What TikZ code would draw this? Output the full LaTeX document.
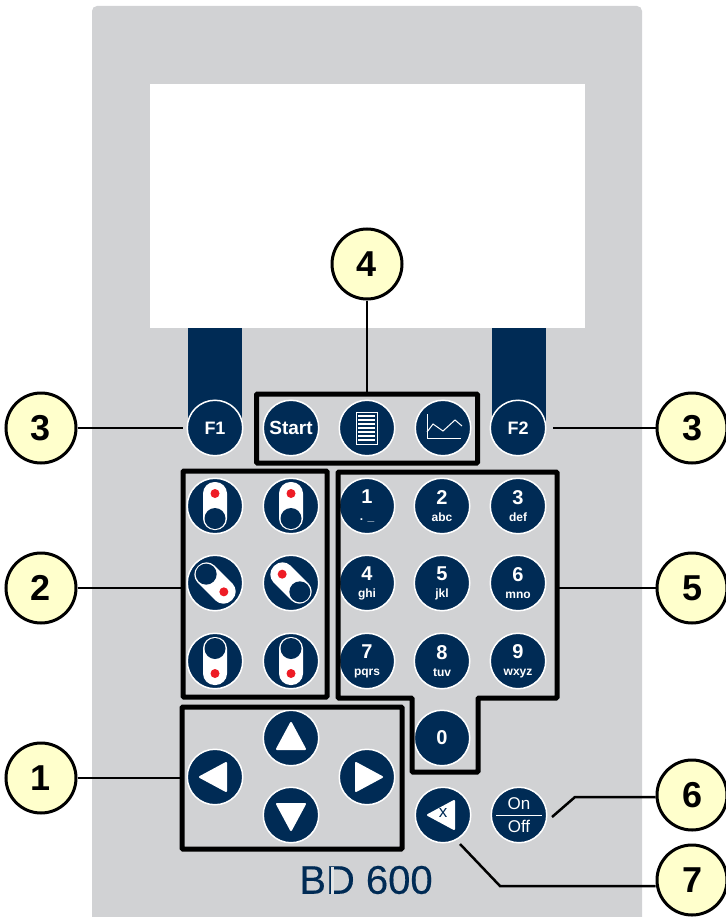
\documentclass[tikz,border=0pt]{standalone}
\usepackage{fontspec}
\setmainfont{Liberation Sans}
\newfontfamily\brandfont[FakeBold=0.35]{Liberation Sans}
\usetikzlibrary{positioning,calc}
\definecolor{panelgray}{HTML}{D1D2D4}
\definecolor{btnblue}{HTML}{002B55}
\definecolor{calloutyellow}{HTML}{FFFFCC}
\definecolor{ledred}{HTML}{EE1C25}
\newcommand{\keytext}[2]{{\fontsize{20}{17}\selectfont #1}\\#2}
\tikzset{
    btn/.style={circle, fill=btnblue, draw=white, line width=1.5pt, minimum size=55.5pt, inner sep=0pt,
        text=white, align=center, font=\fontsize{12}{17}\selectfont\bfseries},
    callout/.style={circle, fill=calloutyellow, draw=black, line width=3pt, minimum size=70pt, inner sep=0pt,
        font=\fontsize{36}{36}\selectfont\bfseries},
    framebox/.style={draw=black, line width=5pt, rounded corners=1pt, inner sep=0pt},
    wire/.style={draw=black, line width=2.5pt},
    slideicon/.pic={
        \fill[white, rounded corners=11.5pt] (-12,-24) rectangle (12,24);
        \fill[btnblue] (0,12.5) circle (10.5);
        \fill[ledred] (0,-12.5) circle (4.5);
    },
    triicon/.pic={
        \fill[white, draw=white, line width=2pt, line join=round] (0,-16) -- (-14,10) -- (14,10) -- cycle;
    }
}
\begin{document}
\begin{tikzpicture}[x=1pt,y=-1pt]
    \useasboundingbox (0,0) rectangle (725,917);

    % Panel and display
    \fill[panelgray, rounded corners=5pt] (92,6) rectangle (642,940);
    \fill[white] (150,84) rectangle (585,328);
    \fill[btnblue] (188,328) rectangle (242,428);
    \fill[btnblue] (492,328) rectangle (546,428);

    % Soft keys
    \node[btn, font=\fontsize{18}{18}\selectfont\bfseries] (f1) at (215,428) {F1};
    \node[btn, font=\fontsize{18}{18}\selectfont\bfseries] (f2) at (518,428) {F2};
    \node[btn, font=\fontsize{19}{19}\selectfont\bfseries] (start) at (291,428) {Start};
    \node[btn] (list) at (367,428) {};
    \node[btn] (chart) at (443,428) {};

    % List icon
    \draw[white, line width=0.8pt] ($(list)+(-11,-16)$) rectangle ($(list)+(10,16)$);
    \foreach \dy in {-12,-8,-4,0,4,8,12}
        \draw[white, line width=1.6pt] ($(list)+(-9,\dy)$) -- ($(list)+(8,\dy)$);

    % Chart icon
    \draw[white, line width=1pt] ($(chart)+(-16,-14)$) -- ($(chart)+(-16,10)$) -- ($(chart)+(18,10)$);
    \draw[white, line width=1pt] ($(chart)+(-16,4)$) -- ($(chart)+(-10,-4)$) -- ($(chart)+(0,3)$) -- ($(chart)+(12,-8)$) -- ($(chart)+(19,-2)$);

    % Slide keys
    \node[btn] (s1) at (215,506) {};
    \node[btn] (s2) at (291,506) {};
    \node[btn] (s3) at (215,583) {};
    \node[btn] (s4) at (291,583) {};
    \node[btn] (s5) at (215,661) {};
    \node[btn] (s6) at (291,661) {};
    \pic at (s1) {slideicon};
    \pic at (s2) {slideicon};
    \pic[rotate=-135] at (s3) {slideicon};
    \pic[rotate=45] at (s4) {slideicon};
    \pic[rotate=180] at (s5) {slideicon};
    \pic[rotate=180] at (s6) {slideicon};

    % Number keys
    \node[btn] (k1) at (367,506) {\keytext{1}{. \_}};
    \node[btn] (k2) at (442,506) {\keytext{2}{abc}};
    \node[btn] (k3) at (518,506) {\keytext{3}{def}};
    \node[btn] (k4) at (367,583) {\keytext{4}{ghi}};
    \node[btn] (k5) at (442,583) {\keytext{5}{jkl}};
    \node[btn] (k6) at (518,583) {\keytext{6}{mno}};
    \node[btn] (k7) at (367,661) {\keytext{7}{pqrs}};
    \node[btn] (k8) at (442,661) {\keytext{8}{tuv}};
    \node[btn] (k9) at (518,661) {\keytext{9}{wxyz}};
    \node[btn, font=\fontsize{20}{20}\selectfont\bfseries] (k0) at (442,738) {0};

    % Arrow keys
    \node[btn] (up) at (291,738) {};
    \node[btn] (left) at (215,777) {};
    \node[btn] (right) at (367,777) {};
    \node[btn] (down) at (291,815) {};
    \pic at ($(up)+(0,1)$) {triicon};
    \pic[rotate=90] at ($(left)+(1,0)$) {triicon};
    \pic[rotate=-90] at ($(right)+(-1,0)$) {triicon};
    \pic[rotate=180] at ($(down)+(0,-1)$) {triicon};

    % Delete and power
    \node[btn] (del) at (443,815) {};
    \pic[rotate=90] at ($(del)+(1,0)$) {triicon};
    \node[text=btnblue, font=\fontsize{17}{17}\selectfont] (delx) at (443,813) {x};
    \node[btn, font=\fontsize{17}{23}\selectfont] (power) at (519,815) {On\\Off};
    \draw[white, line width=1pt] ($(power)+(-23,0)$) -- ($(power)+(23,0)$);

    % Brand
    \node[text=btnblue, font=\fontsize{40}{40}\selectfont\brandfont] (brand) at (366,880) {BD 600};
    \fill[panelgray!60!white] (330.5,867) rectangle (334,894);

    % Frames
    \node[framebox, minimum width=221pt, minimum height=69pt] (frame4) at (367,428.5) {};
    \node[framebox, minimum width=144pt, minimum height=226pt] (frame2) at (255,584) {};
    \node[framebox, minimum width=220pt, minimum height=142pt] (frame1) at (292,778) {};
    \draw[black, line width=5pt, rounded corners=1pt] (338,472) -- (557,472) -- (557,698) -- (478,698) -- (478,772) -- (412,772) -- (412,698) -- (338,698) -- cycle;

    % Callouts
    \node[callout] (c4) at (367,264) {4};
    \node[callout] (c3l) at (41,428) {3};
    \node[callout] (c3r) at (692,428) {3};
    \node[callout] (c2) at (41,588) {2};
    \node[callout] (c5) at (692,588) {5};
    \node[callout] (c1) at (41,778) {1};
    \node[callout] (c6) at (692,795) {6};
    \node[callout] (c7) at (692,880) {7};

    % Connectors
    \coordinate (k5end) at (557,588);
    \coordinate (bend6) at (575,797);
    \coordinate (end6) at (552,817);
    \coordinate (bend7) at (500,886);
    \coordinate (end7) at (460,844);
    \draw[wire] (c4) -- (frame4.north);
    \draw[wire, shorten >=4pt] (c3l) -- (f1);
    \draw[wire, shorten >=6pt] (c3r) -- (f2);
    \draw[wire] (c2) -- (c2 -| frame2.west);
    \draw[wire] (c5) -- (k5end);
    \draw[wire] (c1) -- (frame1.west);
    \draw[wire] (end6) -- (bend6) -- (bend6 -| c6.west);
    \draw[wire] (end7) -- (bend7) -- (bend7 -| c7.west);
\end{tikzpicture}
\end{document}
